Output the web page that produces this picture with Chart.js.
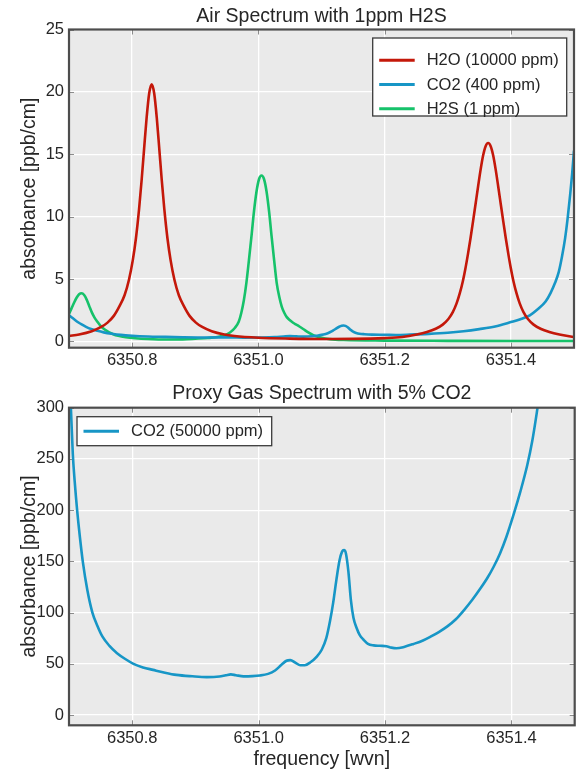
<!DOCTYPE html>
<html>
<head>
<meta charset="utf-8">
<script src="https://cdn.jsdelivr.net/npm/chart.js@4"></script>
<style>
html,body{margin:0;padding:0;background:#fff;}
#wrap{position:relative;width:577px;height:773px;overflow:hidden;}
canvas{position:absolute;left:0;}
</style>
</head>
<body>
<div id="wrap">
<canvas id="c1" width="577" height="380" style="top:0px"></canvas>
<canvas id="c2" width="577" height="393" style="top:380px"></canvas>
</div>
<script>
// ---------- DATA ----------
const topTitle = 'Air Spectrum with 1ppm H2S';
const bottomTitle = 'Proxy Gas Spectrum with 5% CO2';
const yTitle = 'absorbance [ppb/cm]';
const xTitle = 'frequency [wvn]';
const topLabels = ['H2O (10000 ppm)', 'CO2 (400 ppm)', 'H2S (1 ppm)'];
const bottomLabels = ['CO2 (50000 ppm)'];

const xTicks = [6350.8, 6351.0, 6351.2, 6351.4];
const yTicksTop = [0, 5, 10, 15, 20, 25];
const yTicksBottom = [0, 50, 100, 150, 200, 250, 300];
const xRange = [6350.7, 6351.5];
const yRangeTop = [-0.5, 25];
const yRangeBottom = [-10, 300];

const h2oFreq = [6350.700, 6350.716, 6350.736, 6350.751, 6350.761, 6350.771, 6350.780, 6350.788, 6350.795, 6350.801,
  6350.806, 6350.811, 6350.815, 6350.819, 6350.823, 6350.827, 6350.831, 6350.835, 6350.839, 6350.843,
  6350.847, 6350.851, 6350.856, 6350.861, 6350.867, 6350.874, 6350.882, 6350.891, 6350.901, 6350.911,
  6350.926, 6350.946, 6350.962, 6351.000, 6351.050, 6351.100, 6351.150,
  6351.200, 6351.228, 6351.251, 6351.267, 6351.281, 6351.292, 6351.301, 6351.308, 6351.314, 6351.319,
  6351.324, 6351.328, 6351.332, 6351.336, 6351.340, 6351.344, 6351.348, 6351.352, 6351.356, 6351.360,
  6351.364, 6351.368, 6351.372, 6351.376, 6351.380, 6351.384, 6351.388, 6351.392, 6351.396, 6351.400,
  6351.404, 6351.409, 6351.414, 6351.420, 6351.427, 6351.436, 6351.447, 6351.461, 6351.477, 6351.500];
const h2oAbs = [0.44, 0.56, 0.82, 1.16, 1.51, 2.05, 2.83, 3.7, 4.95, 6.5,
  8.25, 10.6, 12.9, 15.45, 17.95, 19.87, 20.6, 19.87, 17.95, 15.45,
  12.9, 10.6, 8.25, 6.5, 4.95, 3.7, 2.83, 2.05, 1.51, 1.16,
  0.82, 0.56, 0.44, 0.3, 0.23, 0.2, 0.21,
  0.27, 0.36, 0.56, 0.76, 1.02, 1.35, 1.8, 2.35, 3.05, 3.85,
  4.85, 5.85, 7.0, 8.25, 9.6, 11.0, 12.4, 13.75, 14.9, 15.65,
  15.9, 15.65, 14.9, 13.75, 12.4, 11.0, 9.6, 8.25, 7.0, 5.85,
  4.85, 3.85, 3.05, 2.35, 1.8, 1.35, 1.02, 0.76, 0.56, 0.36];

const co2AirFreq = [6350.700, 6350.705, 6350.710, 6350.715, 6350.720, 6350.727, 6350.735, 6350.745, 6350.755, 6350.768,
  6350.782, 6350.800, 6350.825, 6350.850, 6350.880, 6350.918, 6350.956, 6350.976, 6351.002, 6351.026,
  6351.040, 6351.050, 6351.060, 6351.071, 6351.085, 6351.095, 6351.103, 6351.110, 6351.116, 6351.122,
  6351.128, 6351.132, 6351.135, 6351.138, 6351.142, 6351.146, 6351.150, 6351.155, 6351.160, 6351.168,
  6351.180, 6351.200, 6351.218, 6351.240, 6351.270, 6351.300, 6351.325, 6351.350, 6351.375, 6351.400,
  6351.415, 6351.430, 6351.443, 6351.455, 6351.463, 6351.470, 6351.476, 6351.481, 6351.486, 6351.490,
  6351.494, 6351.497, 6351.500];
const co2AirAbs = [2.1, 1.9, 1.7, 1.52, 1.36, 1.17, 1.0, 0.85, 0.73, 0.62,
  0.53, 0.46, 0.4, 0.37, 0.34, 0.32, 0.33, 0.31, 0.32, 0.35,
  0.4, 0.43, 0.41, 0.39, 0.42, 0.48, 0.55, 0.66, 0.8, 1.0,
  1.18, 1.26, 1.28, 1.25, 1.12, 0.93, 0.78, 0.68, 0.62, 0.58,
  0.55, 0.54, 0.52, 0.55, 0.61, 0.7, 0.82, 0.99, 1.2, 1.55,
  1.78, 2.1, 2.6, 3.2, 3.9, 4.7, 5.6, 6.8, 8.3, 9.9,
  11.8, 13.4, 15.3];

const h2sFreq = [6350.700, 6350.704, 6350.708, 6350.712, 6350.716, 6350.720, 6350.724, 6350.728, 6350.732, 6350.736,
  6350.740, 6350.745, 6350.750, 6350.756, 6350.763, 6350.770, 6350.778, 6350.790, 6350.805, 6350.825,
  6350.855, 6350.880, 6350.900, 6350.920, 6350.935, 6350.945, 6350.955, 6350.963, 6350.969, 6350.973,
  6350.977, 6350.981, 6350.985, 6350.989, 6350.993, 6350.997, 6351.001, 6351.005, 6351.009, 6351.013,
  6351.017, 6351.021, 6351.025, 6351.029, 6351.033, 6351.037, 6351.041, 6351.045, 6351.050, 6351.055,
  6351.060, 6351.065, 6351.071, 6351.079, 6351.087, 6351.100, 6351.113, 6351.135, 6351.200, 6351.300,
  6351.400, 6351.500];
const h2sAbs = [2.2, 2.65, 3.1, 3.5, 3.78, 3.86, 3.72, 3.35, 2.85, 2.35,
  1.95, 1.58, 1.25, 0.98, 0.75, 0.58, 0.45, 0.34, 0.26, 0.2,
  0.16, 0.17, 0.22, 0.28, 0.36, 0.48, 0.72, 1.1, 1.6, 2.3,
  3.3, 4.7, 6.5, 8.4, 10.4, 12.0, 13.0, 13.3, 13.0, 12.0,
  10.4, 8.4, 6.5, 4.7, 3.6, 2.8, 2.3, 1.95, 1.7, 1.5,
  1.35, 1.2, 1.0, 0.72, 0.5, 0.3, 0.19, 0.12, 0.07, 0.05,
  0.04, 0.04];

const co2ProxyFreq = [6350.700, 6350.703, 6350.706, 6350.709, 6350.713, 6350.717, 6350.722, 6350.729, 6350.737, 6350.745,
  6350.753, 6350.764, 6350.776, 6350.789, 6350.802, 6350.817, 6350.833, 6350.850, 6350.870, 6350.895,
  6350.918, 6350.938, 6350.948, 6350.956, 6350.964, 6350.976, 6350.990, 6351.002, 6351.015, 6351.026,
  6351.036, 6351.044, 6351.050, 6351.058, 6351.066, 6351.073, 6351.082, 6351.092, 6351.100, 6351.107,
  6351.113, 6351.118, 6351.123, 6351.128, 6351.132, 6351.135, 6351.138, 6351.142, 6351.146, 6351.150,
  6351.155, 6351.160, 6351.166, 6351.173, 6351.182, 6351.192, 6351.202, 6351.210, 6351.218, 6351.230,
  6351.245, 6351.260, 6351.272, 6351.285, 6351.298, 6351.312, 6351.325, 6351.338, 6351.351, 6351.362,
  6351.372, 6351.382, 6351.392, 6351.404, 6351.414, 6351.425, 6351.433, 6351.440, 6351.447, 6351.455];
const co2ProxyAbs = [345, 300, 255, 228, 199, 175, 149, 122, 100, 87,
  76.5, 67.5, 60.4, 54.7, 50, 46.5, 44.1, 41.6, 39.2, 37.8,
  37.0, 37.6, 38.8, 39.7, 38.9, 37.8, 38.0, 38.6, 40.2, 43.5,
  49, 53, 53.6, 51.2, 48.6, 48.6, 51.5, 57, 64, 75,
  92, 110, 132, 151, 159.5, 161, 158, 140, 112, 95,
  85, 78, 73.5, 69.5, 68, 67.6, 67.2, 65.8, 65.2, 66.5,
  69.4, 72.8, 76.5, 81, 86.3, 93.5, 102.5, 112.5, 123.7, 134,
  145, 158, 174, 197, 218, 244, 268, 295, 325, 360];

// ---------- STYLE ----------
const FONT = "'Liberation Sans', Arial, sans-serif";
const TEXT = '#262626';
const RED = '#c4180a';
const BLUE = '#1796c6';
const GREEN = '#16c26a';
Chart.defaults.font.family = FONT;
Chart.defaults.color = TEXT;

function pts(xs, ys) { return xs.map((x, i) => ({x: x, y: ys[i]})); }
function setTicks(values) { return s => { s.ticks = values.map(v => ({value: v})); }; }

const framePlugin = {
  id: 'frame',
  beforeDraw(chart) {
    const {ctx, chartArea: a} = chart;
    ctx.save();
    ctx.fillStyle = '#eaeaea';
    ctx.fillRect(a.left, a.top, a.right - a.left, a.bottom - a.top);
    ctx.restore();
  },
  beforeDatasetsDraw(chart) {
    const {ctx, chartArea: a, scales} = chart;
    ctx.save();
    ctx.strokeStyle = '#8c8c8c';
    ctx.lineWidth = 1;
    ctx.beginPath();
    scales.x.ticks.forEach(t => {
      const px = Math.round(scales.x.getPixelForValue(t.value)) + 0.5;
      ctx.moveTo(px, a.top); ctx.lineTo(px, a.top + 5);
      ctx.moveTo(px, a.bottom); ctx.lineTo(px, a.bottom - 5);
    });
    scales.y.ticks.forEach(t => {
      const py = Math.round(scales.y.getPixelForValue(t.value)) + 0.5;
      ctx.moveTo(a.left, py); ctx.lineTo(a.left + 5, py);
      ctx.moveTo(a.right, py); ctx.lineTo(a.right - 5, py);
    });
    ctx.stroke();
    ctx.restore();
  },
  afterDraw(chart) {
    const {ctx, chartArea: a} = chart;
    ctx.save();
    ctx.strokeStyle = '#4d4d4d';
    ctx.lineWidth = 2.2;
    ctx.strokeRect(a.left, a.top, a.right - a.left, a.bottom - a.top);
    const lg = chart.options.plugins.boxLegend;
    if (lg) {
      const ds = chart.data.datasets;
      const w = lg.width, h = lg.height;
      const left = lg.corner === 'right' ? a.right - lg.dx - w : a.left + lg.dx;
      const top = a.top + lg.dy;
      ctx.fillStyle = '#ffffff';
      ctx.fillRect(left, top, w, h);
      ctx.strokeStyle = '#3a3a3a';
      ctx.lineWidth = 1.3;
      ctx.strokeRect(left, top, w, h);
      ctx.font = '16.5px ' + FONT;
      ctx.textBaseline = 'middle';
      ctx.textAlign = 'left';
      ds.forEach((d, i) => {
        const cy = top + lg.first + i * lg.step;
        ctx.strokeStyle = d.borderColor;
        ctx.lineWidth = 3;
        ctx.beginPath();
        ctx.moveTo(left + 6.5, cy); ctx.lineTo(left + 42, cy);
        ctx.stroke();
        ctx.fillStyle = TEXT;
        ctx.fillText(d.label, left + 54, cy + 0.5);
      });
    }
    ctx.restore();
  }
};

function baseOptions(cfg) {
  return {
    responsive: false,
    animation: false,
    devicePixelRatio: 1,
    layout: {padding: {left: 0, right: cfg.padRight, top: 0, bottom: 0}},
    elements: {point: {radius: 0}, line: {borderWidth: 2.6, cubicInterpolationMode: 'monotone'}},
    plugins: {
      legend: {display: false},
      tooltip: {enabled: false},
      title: {
        display: true, text: cfg.title, fullSize: false, color: TEXT,
        font: {size: 19.5, weight: 'normal', family: FONT},
        padding: cfg.titlePad
      },
      boxLegend: cfg.legend
    },
    scales: {
      x: {
        type: 'linear', min: xRange[0], max: xRange[1],
        afterBuildTicks: setTicks(xTicks),
        afterFit: s => { s.height = cfg.xHeight; },
        ticks: {callback: v => Number(v).toFixed(1),
          font: {size: 16.5}, color: TEXT, padding: 3, maxRotation: 0, autoSkip: false},
        grid: {color: '#ffffff', lineWidth: 1.3, drawTicks: false},
        border: {display: false},
        title: cfg.xTitle ? {display: true, text: cfg.xTitle, color: TEXT,
          font: {size: 19.5, family: FONT}, padding: {top: 0, bottom: 1.8}} : {display: false}
      },
      y: {
        type: 'linear', min: cfg.yRange[0], max: cfg.yRange[1],
        afterBuildTicks: setTicks(cfg.yTicks),
        afterFit: s => { s.width = 69; },
        ticks: {callback: v => String(v), font: {size: 16.5}, color: TEXT, padding: 5, autoSkip: false},
        grid: {color: '#ffffff', lineWidth: 1.3, drawTicks: false},
        border: {display: false},
        title: {display: true, text: yTitle, color: TEXT,
          font: {size: 19.5, family: FONT}, padding: {top: 17.5, bottom: 0}}
      }
    }
  };
}

new Chart(document.getElementById('c1'), {
  type: 'line',
  data: {datasets: [
    {label: topLabels[0], data: pts(h2oFreq, h2oAbs), borderColor: RED, clip: 0},
    {label: topLabels[1], data: pts(co2AirFreq, co2AirAbs), borderColor: BLUE, clip: 0},
    {label: topLabels[2], data: pts(h2sFreq, h2sAbs), borderColor: GREEN, clip: 0}
  ]},
  options: baseOptions({
    padRight: 3, title: topTitle, titlePad: {top: 4.8, bottom: 1.3},
    xHeight: 32.3, xTitle: null, yRange: yRangeTop, yTicks: yTicksTop,
    legend: {corner: 'right', dx: 7.3, dy: 8.5, width: 194, height: 78, first: 22.3, step: 24.2}
  }),
  plugins: [framePlugin]
});

new Chart(document.getElementById('c2'), {
  type: 'line',
  data: {datasets: [
    {label: bottomLabels[0], data: pts(co2ProxyFreq, co2ProxyAbs), borderColor: BLUE, clip: 0}
  ]},
  options: baseOptions({
    padRight: 2.3, title: bottomTitle, titlePad: {top: 2.2, bottom: 2.1},
    xHeight: 47.7, xTitle: xTitle, yRange: yRangeBottom, yTicks: yTicksBottom,
    legend: {corner: 'left', dx: 8, dy: 9, width: 194.7, height: 29, first: 14.5, step: 24.2}
  }),
  plugins: [framePlugin]
});
</script>
</body>
</html>
